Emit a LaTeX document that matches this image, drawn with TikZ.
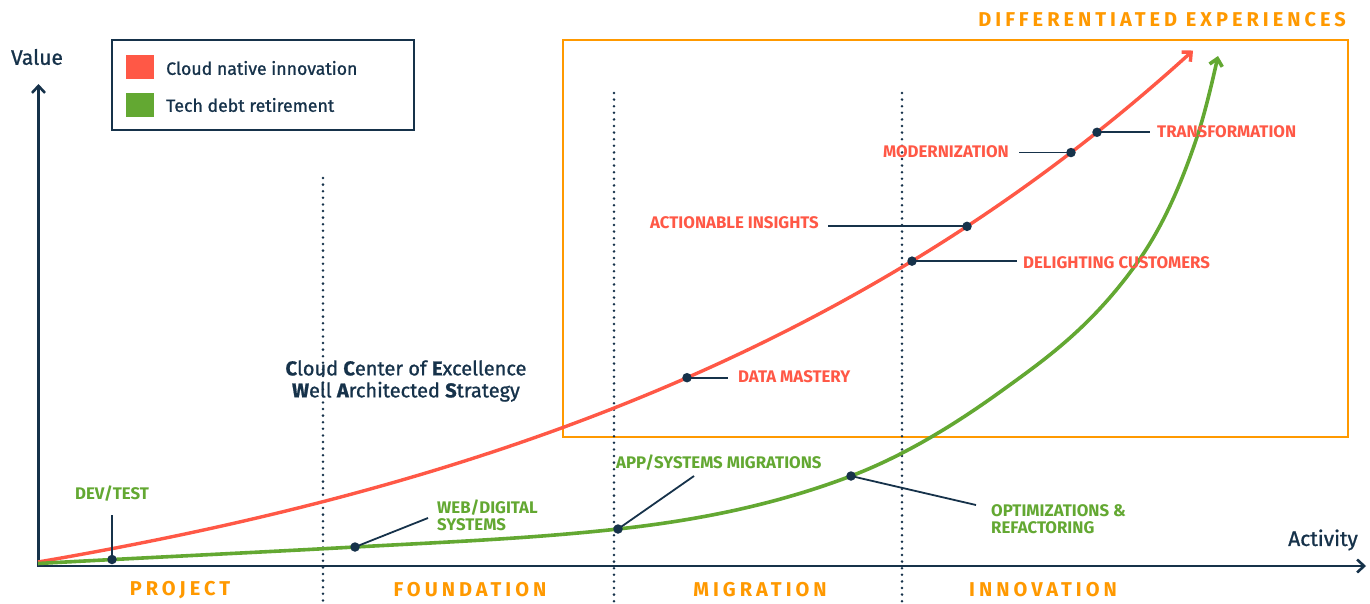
\documentclass[tikz,border=0pt]{standalone}
\usepackage{fontspec}
\setmainfont{Fira Sans}
\newfontfamily\medfont[FakeBold=1]{Fira Sans}
\newfontfamily\spcfont[LetterSpace=20]{Fira Sans}
\usetikzlibrary{arrows.meta}
\definecolor{navy}{HTML}{16324A}
\definecolor{cred}{HTML}{FF5846}
\definecolor{cgreen}{HTML}{63A832}
\definecolor{aorange}{HTML}{FF9900}
\newcommand\redy[1]{(562-118*(exp(0.001447*((#1)-38))-1))}
\tikzset{
  axisline/.style={navy, line width=2.6pt, {Straight Barb[length=7pt,width=13pt]}-{Straight Barb[length=7pt,width=13pt]}},
  dotline/.style={navy, line width=2.8pt, dash pattern=on 0pt off 6.6pt, line cap=round},
  boxline/.style={aorange, line width=1.8pt},
  legendbox/.style={navy, line width=1.8pt},
  redcurve/.style={cred, line width=3.4pt, -{Straight Barb[length=7pt,width=13pt]}},
  greencurve/.style={cgreen, line width=3.6pt, -{Straight Barb[length=7pt,width=13pt]}},
  conn/.style={navy, line width=1.8pt},
  dot/.style={circle, fill=navy, inner sep=0pt, minimum size=9.5pt},
  redlbl/.style={text=cred, font=\bfseries\fontsize{16.8}{17}\selectfont, inner sep=0pt},
  greenlbl/.style={text=cgreen, font=\bfseries\fontsize{16.8}{17}\selectfont, inner sep=0pt, align=left},
  spaced/.style={text=aorange, font=\spcfont\bfseries\fontsize{20}{22}\selectfont, inner sep=0pt},
  navytext/.style={text=navy, inner sep=0pt},
  swatch/.style={inner sep=0pt, minimum width=28pt, minimum height=24pt}
}
\begin{document}
\begin{tikzpicture}[x=1pt,y=-1pt]
\useasboundingbox (0,0) rectangle (1370,603);
\fill[white] (0,0) rectangle (1370,603);

% differentiated experiences box
\draw[boxline] (563,40) rectangle (1348,437);
\node[spaced, anchor=east] (title) at (1346,20) {DIFFERENTIATED EXPERIENCES};

% dotted phase separators
\coordinate (v1t) at (323,178); \coordinate (v1b) at (323,603);
\coordinate (v2t) at (614,93);  \coordinate (v2b) at (614,603);
\coordinate (v3t) at (902,93);  \coordinate (v3b) at (902,603);
\draw[dotline] (v1t) -- (v1b);
\draw[dotline] (v2t) -- (v2b);
\draw[dotline] (v3t) -- (v3b);

% axes
\coordinate (O) at (38.5,566);
\coordinate (ytop) at (38.5,84);
\coordinate (xend) at (1366,566);
\draw[axisline] (ytop) -- (O) -- (xend);
\node[navytext, font=\medfont\fontsize{21}{22}\selectfont] (value) at (37,57) {Value};
\node[navytext, font=\medfont\fontsize{21}{22}\selectfont] (activity) at (1323,540) {Activity};

% legend
\draw[legendbox] (112,40) rectangle (414,130);
\node[swatch, fill=cred] (sqR) at (140,67) {};
\node[swatch, fill=cgreen] (sqG) at (140,105) {};
\node[navytext, anchor=west, font=\medfont\fontsize{17.7}{19}\selectfont] (legR) at (166,68) {Cloud native innovation};
\node[navytext, anchor=west, font=\medfont\fontsize{17.7}{19}\selectfont] (legG) at (166,105) {Tech debt retirement};

% CCoE text
\node[navytext, align=center, font=\medfont\fontsize{20}{22}\selectfont] (ccoe) at (406,381)
  {{\bfseries C}loud {\bfseries C}enter of {\bfseries E}xcellence\\{\bfseries W}ell {\bfseries A}rchitected {\bfseries S}trategy};

% green milestone points (knots of the green curve)
\coordinate (g0) at (38,563.5);
\coordinate (g2) at (1000,392);
\coordinate (g3) at (1137,263);
\coordinate (g4) at (1197,137);
\coordinate (gEnd) at (1218,56);

% curves
\draw[redcurve] plot[domain=38:1193, samples=150] (\x,{\redy{\x}});
\draw[greencurve] (g0)
  .. controls (143.67,557.69) and (249.33,552.81) .. (355,547)
  .. controls (442.67,542.18) and (530.33,538.64) .. (618,529)
  .. controls (695.67,520.46) and (773.33,505.51) .. (851,476)
  .. controls (900.67,457.13) and (950.33,427.76) .. (g2)
  .. controls (1045.67,359.12) and (1091.33,326.93) .. (g3)
  .. controls (1157,235) and (1177,197) .. (g4)
  .. controls (1204,116) and (1211,87.5) .. (gEnd);

% green milestones
\node[dot] (dDev) at (112,559.5) {};
\node[dot] (dWeb) at (355,547) {};
\node[dot] (dApp) at (618,529) {};
\node[dot] (dOpt) at (851,476) {};
\coordinate (eDev) at (112,515);
\coordinate (eWeb) at (428,518);
\coordinate (eApp) at (694,476);
\coordinate (eOpt) at (976,505);
\draw[conn] (dDev.center) -- (eDev);
\draw[conn] (dWeb.center) -- (eWeb);
\draw[conn] (dApp.center) -- (eApp);
\draw[conn] (dOpt.center) -- (eOpt);
\node[greenlbl] (lDev) at (112,494) {DEV/TEST};
\node[greenlbl, anchor=west] (lWeb) at (437,515.5) {WEB/DIGITAL\\SYSTEMS};
\node[greenlbl, anchor=west] (lApp) at (616,463) {APP/SYSTEMS MIGRATIONS};
\node[greenlbl, anchor=west] (lOpt) at (991,519) {OPTIMIZATIONS \&\\REFACTORING};

% red milestones
\node[dot] (dData) at (687,{\redy{687}}) {};
\node[dot] (dDel) at (912,{\redy{912}}) {};
\node[dot] (dAct) at (967,{\redy{967}}) {};
\node[dot] (dMod) at (1071,{\redy{1071}}) {};
\node[dot] (dTra) at (1097,{\redy{1097}}) {};
\coordinate (eData) at (728,0 |- dData);
\coordinate (eDel) at (1017,0 |- dDel);
\coordinate (eAct) at (828,0 |- dAct);
\coordinate (eMod) at (1019,0 |- dMod);
\coordinate (eTra) at (1150,0 |- dTra);
\draw[conn] (dData.center) -- (eData);
\draw[conn] (dDel.center) -- (eDel);
\draw[conn] (dAct.center) -- (eAct);
\draw[conn] (dMod.center) -- (eMod);
\draw[conn] (dTra.center) -- (eTra);
\node[redlbl, anchor=west] (lData) at (738,377) {DATA MASTERY};
\node[redlbl, anchor=west] (lDel) at (1023,263) {DELIGHTING CUSTOMERS};
\node[redlbl, anchor=east] (lAct) at (819,223) {ACTIONABLE INSIGHTS};
\node[redlbl, anchor=east] (lMod) at (1009,152) {MODERNIZATION};
\node[redlbl, anchor=west] (lTra) at (1157,132) {TRANSFORMATION};

% phases
\node[spaced] (pProj) at (180,590) {PROJECT};
\node[spaced] (pFound) at (470,590) {FOUNDATION};
\node[spaced] (pMig) at (760,590) {MIGRATION};
\node[spaced] (pInn) at (1043,590) {INNOVATION};
\end{tikzpicture}
\end{document}
